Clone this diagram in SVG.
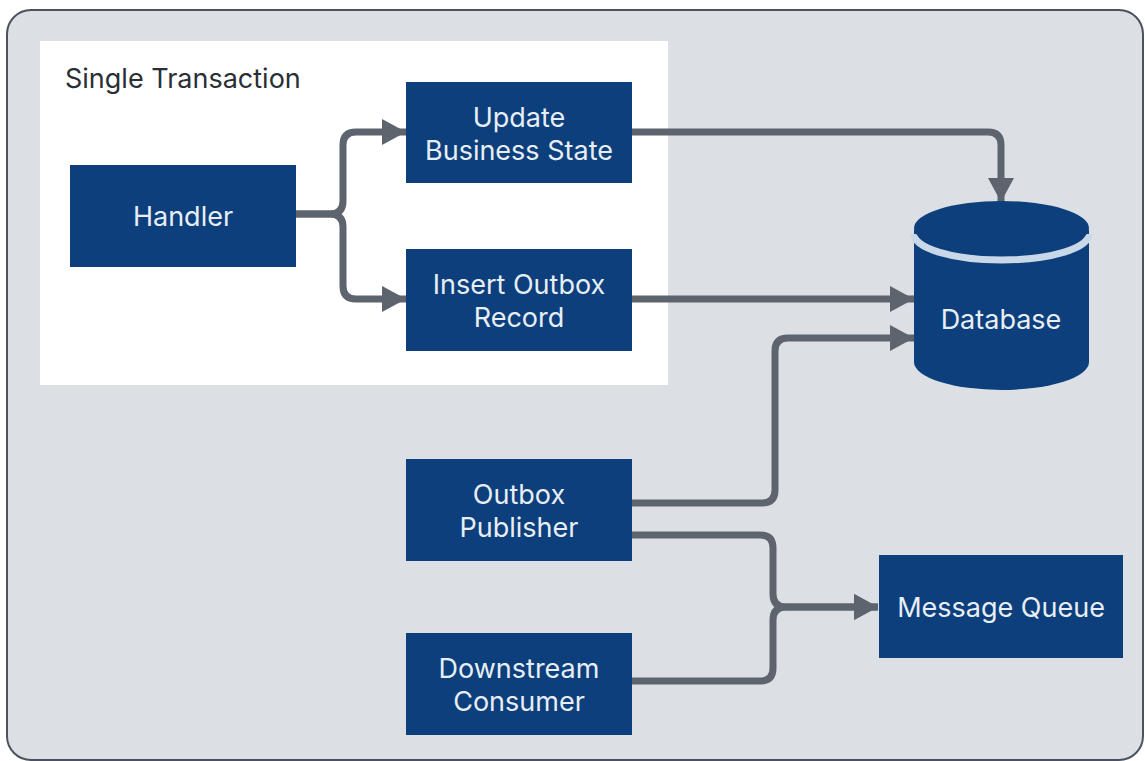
<svg xmlns="http://www.w3.org/2000/svg" width="1145" height="761" viewBox="0 0 1145 761">
<defs>
<style>
.frame{fill:#dce0e5;stroke:#4a5260;stroke-width:2}
.panel{fill:#ffffff}
.box{fill:#0c3f7b}
.lbl{font-family:Inter,"Liberation Sans",sans-serif;font-size:27px;fill:#e8eef6;text-anchor:middle}
.title{font-family:Inter,"Liberation Sans",sans-serif;font-size:27px;fill:#2a2e35}
.conn{fill:none;stroke:#5d646e;stroke-width:7;marker-end:url(#arr)}
</style>
<marker id="arr" markerUnits="userSpaceOnUse" viewBox="0 0 24 26" refX="24" refY="13" markerWidth="24" markerHeight="26" orient="auto">
<path d="M0,0 L24,13 L0,26 Z" fill="#5d646e"/>
</marker>
</defs>
<rect class="frame" x="7" y="10" width="1136" height="750" rx="24"/>
<rect class="panel" x="40" y="41" width="628" height="344"/>
<text class="title" x="65" y="88">Single Transaction</text>

<g id="connectors">
<path class="conn" d="M296,214 H330 Q343,214 343,201 V145 Q343,132 356,132 H406"/>
<path class="conn" d="M296,214 H330 Q343,214 343,227 V286 Q343,299 356,299 H406"/>
<path class="conn" d="M632,132 H988 Q1001,132 1001,145 V202"/>
<path class="conn" d="M632,299 H914"/>
<path class="conn" d="M632,503 H762 Q775,503 775,490 V351 Q775,338 788,338 H914"/>
<path class="conn" d="M632,535 H760 Q773,535 773,548 V594 Q773,607 786,607 H878"/>
<path class="conn" d="M632,681 H760 Q773,681 773,668 V620 Q773,607 786,607 H878"/>
</g>

<g id="handler">
<rect class="box" x="70" y="165" width="226" height="102"/>
<text class="lbl" x="183" y="226">Handler</text>
</g>
<g id="update">
<rect class="box" x="406" y="82" width="226" height="101"/>
<text class="lbl" x="519" y="127">Update</text>
<text class="lbl" x="519" y="160">Business State</text>
</g>
<g id="insert">
<rect class="box" x="406" y="249" width="226" height="102"/>
<text class="lbl" x="519" y="294">Insert Outbox</text>
<text class="lbl" x="519" y="327">Record</text>
</g>
<g id="database">
<path class="box" d="M914,230 V362 A87.5,28 0 0 0 1089,362 V230 Z"/>
<path d="M914,234 A87.5,26 0 0 0 1089,234" fill="none" stroke="#c9d8e8" stroke-width="7"/>
<ellipse class="box" cx="1001.5" cy="228" rx="87.5" ry="27"/>
<text class="lbl" x="1001" y="329">Database</text>
</g>
<g id="publisher">
<rect class="box" x="406" y="459" width="226" height="102"/>
<text class="lbl" x="519" y="504">Outbox</text>
<text class="lbl" x="519" y="537">Publisher</text>
</g>
<g id="consumer">
<rect class="box" x="406" y="633" width="226" height="102"/>
<text class="lbl" x="519" y="678">Downstream</text>
<text class="lbl" x="519" y="711">Consumer</text>
</g>
<g id="queue">
<rect class="box" x="879" y="555" width="244" height="103"/>
<text class="lbl" x="1001" y="617">Message Queue</text>
</g>
</svg>
